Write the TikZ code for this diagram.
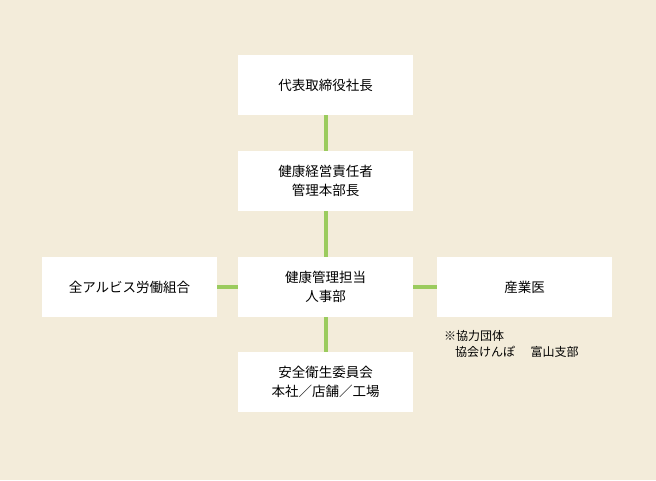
\documentclass[tikz,border=0pt]{standalone}
\usepackage{fontspec}
\setmainfont{Noto Sans CJK JP}
\begin{document}
\begin{tikzpicture}[x=1pt,y=-1pt,
  box/.style={fill=white,minimum width=175pt,minimum height=60pt,inner sep=0pt,align=center,font=\fontsize{13.5}{19}\selectfont},
  ln/.style={draw=lgreen,line width=4pt}]
\definecolor{bg}{HTML}{F3ECDA}
\definecolor{lgreen}{HTML}{9BCB5E}
\fill[bg] (0,0) rectangle (656,480);
\useasboundingbox (0,0) rectangle (656,480);
\node[box] (a) at (325.5,85) {代表取締役社長};
\node[box] (b) at (325.5,181) {健康経営責任者\\管理本部長};
\node[box] (c) at (325.5,287) {健康管理担当\\人事部};
\node[box] (d) at (325.5,382) {安全衛生委員会\\本社／店舗／工場};
\node[box] (l) at (129.5,287) {全アルビス労働組合};
\node[box] (r) at (524.5,287) {産業医};
\draw[ln] (a) -- (b);
\draw[ln] (b) -- (c);
\draw[ln] (c) -- (d);
\draw[ln] (l) -- (c);
\draw[ln] (c) -- (r);
\node[anchor=north west,inner sep=0pt,align=left,font=\fontsize{12}{16}\selectfont] (n) at (444,330) {※協力団体\\\hspace{0.9em}協会けんぽ\hspace{1.3em}富山支部};
\end{tikzpicture}
\end{document}
